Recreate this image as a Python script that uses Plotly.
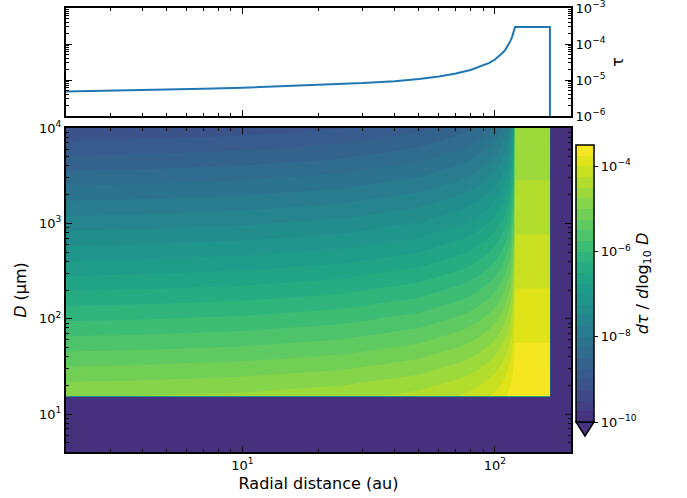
import math
import plotly.graph_objects as go

# ---------------- data ----------------
# top panel: total optical depth tau versus radial distance (au)
R_TAU = [2, 3, 5, 7, 10, 15, 20, 30, 40, 50, 60, 70, 80, 85, 90, 95, 100, 105, 108, 110,
         112, 115, 117, 118, 119, 119.5, 120, 165, 165]
TAU = [4.8e-6, 5.0e-6, 5.3e-6, 5.7e-6, 6.1e-6, 6.7e-6, 7.2e-6, 8.2e-6, 9.3e-6, 1.07e-5,
       1.26e-5, 1.52e-5, 1.9e-5, 2.2e-5, 2.55e-5, 3.0e-5, 3.7e-5, 4.9e-5, 6.0e-5, 7.0e-5,
       8.6e-5, 1.2e-4, 1.6e-4, 1.9e-4, 2.4e-4, 2.7e-4, 2.95e-4, 2.95e-4, 1e-8]

# bottom panel: log10(dtau/dlog10 D) on a grid of radius (au) x grain size (um)
R_GRID = [2, 4, 10, 25, 50, 75, 85, 95, 100, 105, 108, 112, 114, 116, 117, 118.5, 119.5,
          120, 165, 165.5, 200]
D_GRID = [4, 15.2, 15.5, 31.6, 100, 316, 1000, 3162, 10000]
ROW_D4 = [-12] * 21
ROW_D15_2 = [-12] * 21
ROW_D15_5 = [-4.774, -4.748, -4.692, -4.583, -4.417, -4.224, -4.128, -4.014, -3.946, -3.868,
             -3.814, -3.732, -3.684, -3.632, -3.603, -3.557, -3.523, -3.505, -3.505, -12, -12]
ROW_D31 = [-5.253, -5.226, -5.167, -5.054, -4.878, -4.666, -4.558, -4.423, -4.339, -4.239,
           -4.166, -4.048, -3.976, -3.889, -3.839, -3.751, -3.681, -3.641, -3.641, -12, -12]
ROW_D100 = [-6.039, -6.012, -5.952, -5.836, -5.653, -5.429, -5.311, -5.161, -5.064, -4.944,
            -4.853, -4.695, -4.589, -4.451, -4.361, -4.178, -3.994, -3.861, -3.861, -12, -12]
ROW_D316 = [-6.831, -6.803, -6.743, -6.626, -6.441, -6.214, -6.094, -5.938, -5.838, -5.710,
            -5.613, -5.440, -5.319, -5.154, -5.040, -4.783, -4.451, -4.081, -4.081, -12, -12]
ROW_D1000 = [-7.624, -7.597, -7.536, -7.420, -7.234, -7.006, -6.885, -6.728, -6.626, -6.497,
             -6.398, -6.220, -6.095, -5.920, -5.798, -5.509, -5.083, -4.301, -4.301, -12, -12]
ROW_D3162 = [-8.418, -8.390, -8.330, -8.213, -8.028, -7.799, -7.678, -7.521, -7.419, -7.289,
             -7.189, -7.010, -6.883, -6.706, -6.581, -6.283, -5.821, -4.521, -4.521, -12, -12]
ROW_D10000 = [-9.212, -9.184, -9.124, -9.007, -8.822, -8.593, -8.472, -8.315, -8.212, -8.082,
              -7.983, -7.803, -7.676, -7.498, -7.373, -7.071, -6.598, -4.741, -4.741, -12, -12]
LOG_DTAU = [ROW_D4, ROW_D15_2, ROW_D15_5, ROW_D31, ROW_D100, ROW_D316, ROW_D1000,
            ROW_D3162, ROW_D10000]

LEVEL_START, LEVEL_END, LEVEL_STEP = -10, -3.5, 0.25

X_TICKS = [10, 100]
X_TICKTEXT = ["10<sup>1</sup>", "10<sup>2</sup>"]
Y_TICKS = [10, 100, 1000, 10000]
Y_TICKTEXT = ["10<sup>1</sup>", "10<sup>2</sup>", "10<sup>3</sup>", "10<sup>4</sup>"]
TAU_TICKS = [1e-6, 1e-5, 1e-4, 1e-3]
TAU_TICKTEXT = ["10<sup>\u22126</sup>", "10<sup>\u22125</sup>", "10<sup>\u22124</sup>", "10<sup>\u22123</sup>"]
CB_TICKS = [-10, -8, -6, -4]
CB_TICKTEXT = ["10<sup>\u221210</sup>", "10<sup>\u22128</sup>", "10<sup>\u22126</sup>", "10<sup>\u22124</sup>"]

# ---------------- styling helpers ----------------
VIRIDIS = ["#440154", "#471365", "#482475", "#463480", "#414487", "#3b528b", "#355f8d",
           "#2f6c8e", "#2a788e", "#25848e", "#21918c", "#1e9c89", "#22a884", "#2fb47c",
           "#44bf70", "#5ec962", "#7ad151", "#9bd93c", "#bddf26", "#dfe318", "#fde725"]


def viridis(f):
    f = min(max(f, 0.0), 1.0) * 20
    i = min(int(f), 19)
    t = f - i
    a = VIRIDIS[i]
    b = VIRIDIS[i + 1]
    ca = [int(a[j:j + 2], 16) for j in (1, 3, 5)]
    cb = [int(b[j:j + 2], 16) for j in (1, 3, 5)]
    c = [round(ca[k] + (cb[k] - ca[k]) * t) for k in range(3)]
    return "rgb(%d,%d,%d)" % tuple(c)


n_levels = int(round((LEVEL_END - LEVEL_START) / LEVEL_STEP)) + 1  # 27
n_bands = n_levels - 1  # 26
UNDER_COLOR = viridis(0.14)
band_colors = [viridis(0.15 + 0.0334 * k) for k in range(n_bands)]
stops = [UNDER_COLOR] + band_colors + [viridis(1.0)]
# colorscale used by the filled contour (plotly samples band k at (k+1)/n_levels)
colorscale = [[i / n_levels, c] for i, c in enumerate(stops)]
# stepped colorscale for the colorbar spanning exactly [LEVEL_START, LEVEL_END]
cb_scale = []
for k, c in enumerate(band_colors):
    cb_scale.append([k / n_bands, c])
    cb_scale.append([(k + 1) / n_bands, c])

W, H = 687, 498
ML, MR, MT, MB = 66, 116, 8, 46
PW = W - ML - MR
PH = H - MT - MB


def px(x):
    return (x - ML) / PW


def py(y):
    return 1 - (y - MT) / PH


FONT = "DejaVu Sans"
XMINOR = [3, 4, 5, 6, 7, 8, 9, 20, 30, 40, 50, 60, 70, 80, 90, 200]
YMINOR = [5, 6, 7, 8, 9, 20, 30, 40, 50, 60, 70, 80, 90, 200, 300, 400, 500, 600, 700, 800,
          900, 2000, 3000, 4000, 5000, 6000, 7000, 8000, 9000]
TMINOR = [m * 10 ** e for e in (-6, -5, -4) for m in range(2, 10)]

fig = go.Figure()
fig.add_trace(go.Scatter(x=R_TAU, y=TAU, mode="lines", xaxis="x", yaxis="y",
                         line=dict(color="#1f77b4", width=2), showlegend=False,
                         hoverinfo="skip"))
fig.add_trace(go.Contour(
    x=R_GRID, y=D_GRID, z=LOG_DTAU, xaxis="x2", yaxis="y2",
    autocontour=False,
    contours=dict(start=LEVEL_START, end=LEVEL_END, size=LEVEL_STEP,
                  coloring="fill", showlines=False),
    line=dict(width=0, smoothing=0),
    colorscale=colorscale, showscale=False,
    hoverinfo="skip",
))
# invisible marker carrying the colour bar (range exactly the contour levels)
fig.add_trace(go.Scatter(
    x=[R_GRID[0]], y=[D_GRID[-1]], mode="markers", xaxis="x2", yaxis="y2",
    showlegend=False, hoverinfo="skip",
    marker=dict(
        color=[LEVEL_START], cmin=LEVEL_START, cmax=LEVEL_END, colorscale=cb_scale,
        opacity=0, size=1, showscale=True,
        colorbar=dict(
            x=px(576), xanchor="left", xpad=0, xref="paper",
            y=py(145), yanchor="top", ypad=0, yref="paper",
            len=277, lenmode="pixels", thickness=18, thicknessmode="pixels",
            outlinewidth=1.5, outlinecolor="black",
            tickmode="array", tickvals=CB_TICKS, ticktext=CB_TICKTEXT,
            ticks="outside", ticklen=4, tickwidth=1, tickcolor="black",
            tickfont=dict(size=13, family=FONT, color="black"),
            title=dict(text="<i>d\u03c4</i> / <i>d</i>log<sub>10</sub> <i>D</i>", side="right",
                       font=dict(size=16, family=FONT, color="black")),
        ),
    ),
))

axis_common = dict(type="log", showline=True, linecolor="black", linewidth=2,
                   mirror="ticks", ticks="inside", ticklen=6, tickwidth=1,
                   tickcolor="black", showgrid=False, zeroline=False, automargin=False,
                   ticklabeloverflow="allow",
                   tickfont=dict(size=13, family=FONT, color="black"))
minor_common = dict(ticks="inside", ticklen=3, tickwidth=1, tickcolor="black", showgrid=False)

xr = [math.log10(2), math.log10(200)]
fig.update_layout(
    width=W, height=H,
    margin=dict(l=ML, r=MR, t=MT, b=MB, pad=0, autoexpand=False),
    paper_bgcolor="white", plot_bgcolor="white",
    font=dict(family=FONT, color="black"),
    showlegend=False,
    xaxis=dict(axis_common, domain=[0, 1], anchor="y", range=xr,
               tickmode="array", tickvals=X_TICKS, showticklabels=False,
               minor=dict(minor_common, tickmode="array", tickvals=XMINOR)),
    yaxis=dict(axis_common, domain=[py(116), 1], anchor="x", range=[-6, -3], side="right",
               tickmode="array", tickvals=TAU_TICKS, ticktext=TAU_TICKTEXT,
               minor=dict(minor_common, tickmode="array", tickvals=TMINOR),
               title=dict(text="\u03c4", font=dict(size=16, family=FONT, color="black"),
                          standoff=7)),
    xaxis2=dict(axis_common, domain=[0, 1], anchor="y2", range=xr,
                tickmode="array", tickvals=X_TICKS, ticktext=X_TICKTEXT,
                minor=dict(minor_common, tickmode="array", tickvals=XMINOR),
                title=dict(text="Radial distance (au)",
                           font=dict(size=16, family=FONT, color="black"), standoff=6)),
    yaxis2=dict(axis_common, domain=[0, py(128)], anchor="x2",
                range=[math.log10(4), 4],
                tickmode="array", tickvals=Y_TICKS, ticktext=Y_TICKTEXT,
                minor=dict(minor_common, tickmode="array", tickvals=YMINOR),
                title=dict(text="<i>D</i> (\u03bcm)",
                           font=dict(size=16, family=FONT, color="black"), standoff=8)),
    shapes=[dict(type="path", xref="paper", yref="paper",
                 path="M %f,%f L %f,%f L %f,%f Z" % (px(576), py(422), px(594), py(422),
                                                     px(585), py(436)),
                 fillcolor=band_colors[0], line=dict(color="black", width=1.5), layer="above")],
)

fig.write_html("out.html", config={"displayModeBar": False},
               post_script="document.body.style.margin='0px';")
